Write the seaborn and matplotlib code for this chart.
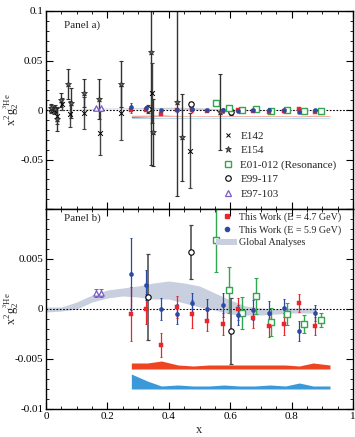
import numpy as np
import pandas as pd
import matplotlib
matplotlib.use("Agg")
import matplotlib.pyplot as plt
import seaborn as sns
from matplotlib.lines import Line2D
from matplotlib.patches import Patch
from matplotlib.ticker import MultipleLocator, FixedLocator, FixedFormatter

sns.set_theme(style="ticks")
plt.rcParams['font.family'] = ['Liberation Serif', 'DejaVu Serif']
plt.rcParams['mathtext.fontset'] = 'stix'

# ---------------- data ----------------
# E142 (x markers)
e142_x = [0.017, 0.027, 0.036, 0.052, 0.078, 0.125, 0.175, 0.245, 0.345, 0.469]
e142_y = [0.001, 0.000, -0.006, 0.006, -0.004, -0.003, -0.023, -0.003, 0.017, -0.041]
e142_e = [0.004, 0.004, 0.008, 0.006, 0.013, 0.016, 0.022, 0.027, 0.030, 0.038]

# E154 (stars)
e154_x = [0.015, 0.030, 0.037, 0.050, 0.072, 0.080, 0.123, 0.174, 0.245, 0.342, 0.347, 0.426, 0.444, 0.567]
e154_y = [0.002, 0.001, -0.009, 0.010, 0.026, 0.007, 0.017, 0.011, 0.026, 0.059, -0.0225, 0.0077, -0.0276, -0.002]
e154_e = [0.004, 0.004, 0.012, 0.007, 0.015, 0.015, 0.014, 0.020, 0.023, 0.115, 0.034, 0.095, 0.044, 0.038]

# E01-012 (Resonance)
e01_x = [0.554, 0.596, 0.637, 0.683, 0.732, 0.784, 0.839, 0.896]
e01_y = [0.0069, 0.0019, -0.0004, 0.0013, -0.0013, -0.0005, -0.0015, -0.0011]
e01_e = [0.0032, 0.0023, 0.0016, 0.0018, 0.0014, 0.0011, 0.0009, 0.0007]

# E99-117
e99_x = [0.332, 0.472, 0.601]
e99_y = [0.0012, 0.0057, -0.0022]
e99_e = [0.0043, 0.0027, 0.0033]

# E97-103
e97_x = [0.162, 0.180]
e97_y = [0.0016, 0.0016]
e97_e = [0.0004, 0.0004]

# This work
tw_x = [0.278, 0.326, 0.376, 0.426, 0.474, 0.525, 0.575, 0.625, 0.675, 0.725, 0.776, 0.825, 0.877]
tw47_y = [-0.0005, 0.0, -0.0036, 0.0002, -0.0005, -0.0012, -0.0015, 0.0, -0.0009, -0.0017, -0.0015, 0.0006, -0.0017]
tw47_e = [0.0027, 0.0015, 0.0012, 0.0011, 0.0014, 0.0010, 0.0011, 0.0011, 0.0010, 0.0011, 0.0011, 0.0009, 0.0009]
tw59_y = [0.0035, 0.0024, 0.0, -0.0005, 0.0006, 0.0, 0.0004, -0.0006, -0.0001, -0.0004, 0.0001, -0.0022, -0.0004]
tw59_e = [0.0036, 0.0015, 0.0011, 0.0010, 0.0010, 0.0010, 0.0012, 0.0010, 0.0010, 0.0012, 0.0009, 0.0010, 0.0008]

# Global analyses band
ga_x = [0.0, 0.05, 0.1, 0.15, 0.2, 0.25, 0.3, 0.35, 0.4, 0.45, 0.5, 0.55, 0.6, 0.65, 0.7, 0.75, 0.8, 0.85, 0.88]
ga_lo = [-0.0003, -0.0002, 0.0, 0.0007, 0.0011, 0.0013, 0.0012, 0.0010, 0.0010, 0.0006, 0.0002, -0.0001, -0.0005, -0.0006, -0.0006, -0.0005, -0.0004, -0.0004, -0.0004]
ga_hi = [0.0002, 0.0002, 0.0007, 0.0014, 0.0019, 0.0021, 0.0023, 0.0026, 0.0028, 0.0026, 0.0023, 0.0016, 0.0009, 0.0003, 0.0001, 0.0, 0.0001, 0.0001, 0.0001]

# Systematic bands
sys_x = [0.278, 0.33, 0.376, 0.43, 0.48, 0.53, 0.58, 0.63, 0.68, 0.73, 0.78, 0.825, 0.87, 0.925]
sys47_hi = [-0.0054, -0.0054, -0.0052, -0.0056, -0.0057, -0.0056, -0.0056, -0.0056, -0.0056, -0.0056, -0.0056, -0.0057, -0.0054, -0.0056]
sys47_lo = [-0.0060] * 14
sys59_hi = [-0.0065, -0.0072, -0.0077, -0.0076, -0.0077, -0.0077, -0.0076, -0.0077, -0.0077, -0.0076, -0.0077, -0.0074, -0.0077, -0.0077]
sys59_lo = [-0.0080] * 14

RED = '#e8262b'
BLUE = '#2b4aa3'
GREEN = '#2fa84f'
PURPLE = '#7a5cc2'
GREY = '#444444'
BAND = '#c8cfdf'
SRED = '#ef4422'
SBLUE = '#3a9ad9'

fig = plt.figure(figsize=(3.55, 4.37), dpi=100)
L, W = 46 / 355, 307 / 355
axa = fig.add_axes([L, 1 - 209 / 437, W, 198 / 437])
axb = fig.add_axes([L, 1 - 409 / 437, W, 200 / 437])


def eb(ax, x, y, e, color, lw=0.9, cap=1.2, z=2):
    ax.errorbar(x, y, yerr=e, fmt='none', ecolor=color, elinewidth=lw,
                capsize=cap, capthick=lw * 0.8, zorder=z)


def sc(ax, x, y, marker, size, face, edge, lw=0.8, z=3):
    d = pd.DataFrame({'x': x, 'y': y})
    sns.scatterplot(data=d, x='x', y='y', ax=ax, marker=marker, s=size,
                    color=face, edgecolor=edge, linewidth=lw, zorder=z, legend=False)


for ax, panel in ((axa, 'a'), (axb, 'b')):
    ax.fill_between(ga_x, ga_lo, ga_hi, color=BAND, lw=0, zorder=1)
    ax.fill_between(sys_x, sys47_lo, sys47_hi, color=SRED, lw=0, zorder=1)
    ax.fill_between(sys_x, sys59_lo, sys59_hi, color=SBLUE, lw=0, zorder=1)
    ax.axhline(0, color='black', ls=(0, (1.5, 1.5)), lw=0.8, zorder=1.5)

    if panel == 'a':
        eb(ax, e142_x, e142_y, e142_e, GREY, lw=1.0)
        eb(ax, e154_x, e154_y, e154_e, '#333333', lw=1.0)
        sc(ax, e142_x, e142_y, 'x', 12, 'black', 'black', lw=0.7, z=4)
        sc(ax, e154_x, e154_y, '*', 20, '#666666', '#222222', lw=0.5, z=4)

    eb(ax, e99_x, e99_y, e99_e, GREY, lw=1.1)
    eb(ax, e01_x, e01_y, e01_e, GREEN, lw=1.0)
    eb(ax, e97_x, e97_y, e97_e, PURPLE, lw=0.9)
    eb(ax, tw_x, tw47_y, tw47_e, RED, lw=0.9, cap=1.0)
    eb(ax, tw_x, tw59_y, tw59_e, BLUE, lw=0.9, cap=1.0)

    sc(ax, e99_x, e99_y, 'o', 15, 'white', 'black', lw=0.8, z=5)
    sc(ax, e01_x, e01_y, 's', 18, 'white', GREEN, lw=1.0, z=5)
    sc(ax, e97_x, e97_y, '^', 15, 'white', PURPLE, lw=0.9, z=5)
    sc(ax, tw_x, tw47_y, 's', 12, RED, RED, lw=0.3, z=5)
    sc(ax, tw_x, tw59_y, 'o', 9, BLUE, BLUE, lw=0.3, z=6)

    ax.set_xlim(0, 1)
    ax.xaxis.set_major_locator(MultipleLocator(0.2))
    ax.xaxis.set_minor_locator(MultipleLocator(0.05))
    ax.tick_params(which='both', direction='in', top=True, right=True,
                   labelsize=8, colors='black', pad=2)
    ax.tick_params(which='major', length=5, width=0.8)
    ax.tick_params(which='minor', length=2.5, width=0.6)
    for s in ax.spines.values():
        s.set_linewidth(1.0)
        s.set_color('black')
    ax.set_ylabel(r'$\mathregular{x^2g_2^{^3He}}$', fontsize=9)
    ax.yaxis.set_label_coords(-0.083, 0.5)
    ax.set_xlabel('')

# panel a axes
axa.set_ylim(-0.1, 0.1)
axa.yaxis.set_major_locator(FixedLocator([-0.1, -0.05, 0, 0.05, 0.1]))
axa.yaxis.set_major_formatter(FixedFormatter(['', '-0.05', '0', '0.05', '0.1']))
axa.yaxis.set_minor_locator(MultipleLocator(0.01))
axa.tick_params(labelbottom=False)
axa.text(0.06, 0.955, 'Panel a)', transform=axa.transAxes, fontsize=8, va='top', ha='left')

# panel b axes
axb.set_ylim(-0.01, 0.01)
axb.yaxis.set_major_locator(FixedLocator([-0.01, -0.005, 0, 0.005, 0.01]))
axb.yaxis.set_major_formatter(FixedFormatter(['-0.01', '-0.005', '0', '0.005', '']))
axb.yaxis.set_minor_locator(MultipleLocator(0.001))
axb.xaxis.set_major_locator(FixedLocator([0, 0.2, 0.4, 0.6, 0.8, 1.0]))
axb.xaxis.set_major_formatter(FixedFormatter(['0', '0.2', '0.4', '0.6', '0.8', '1']))
axb.set_xlabel('x', fontsize=9, labelpad=2)
axb.text(0.06, 0.98, 'Panel b)', transform=axb.transAxes, fontsize=8, va='top', ha='left')

# legends
ha = [
    Line2D([], [], ls='none', marker='x', ms=3.5, mec='black', mew=0.7),
    Line2D([], [], ls='none', marker='*', ms=4.5, mfc='#666666', mec='#222222', mew=0.5),
    Line2D([], [], ls='none', marker='s', ms=4, mfc='white', mec=GREEN, mew=1.0),
    Line2D([], [], ls='none', marker='o', ms=4, mfc='white', mec='black', mew=0.8),
    Line2D([], [], ls='none', marker='^', ms=4, mfc='white', mec=PURPLE, mew=0.9),
]
la = ['E142', 'E154', 'E01-012 (Resonance)', 'E99-117', 'E97-103']
axa.legend(ha, la, loc='upper left', bbox_to_anchor=(0.575, 0.395), frameon=False,
           fontsize=8, handlelength=1.0, handletextpad=0.6, labelspacing=0.42,
           borderpad=0, borderaxespad=0)

hb = [
    Line2D([], [], ls='none', marker='s', ms=3.5, mfc=RED, mec=RED),
    Line2D([], [], ls='none', marker='o', ms=3, mfc=BLUE, mec=BLUE),
    Patch(facecolor=BAND, edgecolor='none'),
]
lb = ['This Work (E = 4.7 GeV)', 'This Work (E = 5.9 GeV)', 'Global Analyses']
axb.legend(hb, lb, loc='upper left', bbox_to_anchor=(0.555, 0.985), frameon=False,
           fontsize=7.2, handlelength=2.1, handleheight=0.6, handletextpad=0.2,
           labelspacing=0.35, borderpad=0, borderaxespad=0)

fig.savefig('out.png', dpi=100)
